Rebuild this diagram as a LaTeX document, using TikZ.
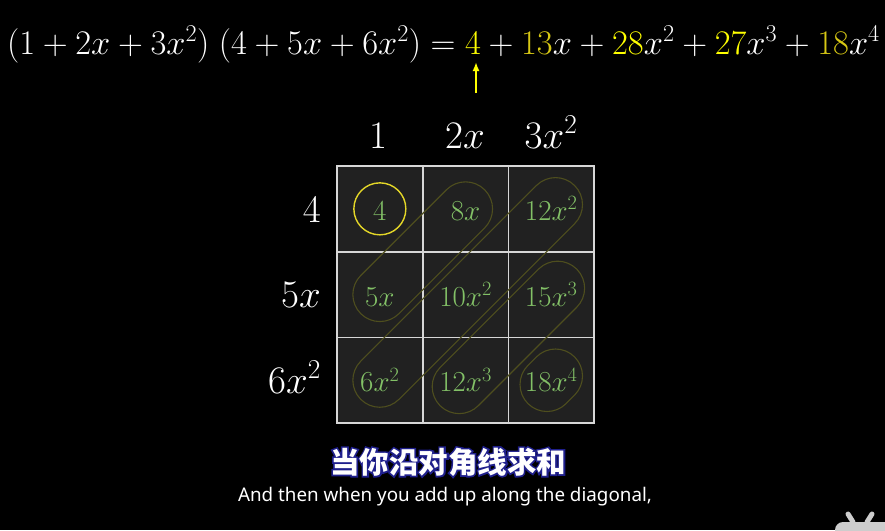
\RequirePackage{fix-cm}
\documentclass[tikz,border=0pt]{standalone}
\usepackage{amsmath}
\usepackage{fontspec}
\newfontfamily\cjkfont{Noto Sans CJK SC}
\newfontfamily\subfont{Noto Sans}
\usetikzlibrary{calc,arrows.meta}

\definecolor{cellgray}{RGB}{33,33,33}
\definecolor{gridline}{RGB}{215,215,215}
\definecolor{termgreen}{RGB}{131,193,103}
\definecolor{hlyellow}{RGB}{255,255,0}
\definecolor{ringyellow}{RGB}{228,215,40}
\definecolor{dimyellow}{RGB}{215,200,20}
\definecolor{bandolive}{RGB}{78,78,30}
\definecolor{icongray}{RGB}{205,205,205}

% rounded band along a diagonal: upper-right end, lower-left end, radius
\newcommand\diagband[3]{%
  \draw[band] ($(#1)+(225:#3)$) -- ($(#2)+(225:#3)$)
    arc[start angle=225,end angle=45,radius=#3] -- ($(#1)+(45:#3)$)
    arc[start angle=45,end angle=-135,radius=#3] -- cycle;}

% white text with a dark blue rim drawn under it
\newcommand\rimtext[1]{\rlap{\special{pdf:literal direct 1 Tr 3.2 w 0.12 0.12 0.55 RG}#1\special{pdf:literal direct 0 Tr}}#1}

\def\cellterms{0/{4,8x,12x^2},1/{5x,10x^2,15x^3},2/{6x^2,12x^3,18x^4}}

\begin{document}
\begin{tikzpicture}[x=1pt,y=-1pt,>=Latex,
  cellbox/.style={draw=gridline,line width=1.6pt,fill=cellgray,minimum size=85.7pt,inner sep=0pt},
  term/.style={text=termgreen,anchor=base,inner sep=0pt,font=\fontsize{29}{30}\selectfont},
  lbl/.style={text=white,inner sep=0pt,font=\fontsize{39}{40}\selectfont},
  band/.style={draw=bandolive,line width=1.1pt},
  sub/.style={inner sep=0pt,text=white}]
  \fill[black] (0,0) rectangle (885,530);
  \useasboundingbox (0,0) rectangle (885,530);
  \clip (0,0) rectangle (885,530);

  % product at the top
  \node[text=white,anchor=base west,inner sep=0pt,font=\fontsize{34.5}{37}\selectfont] (eq) at (7,54)
    {$(1+2x+3x^2)\;(4+5x+6x^2)=\textcolor{hlyellow}{4}+\textcolor{dimyellow}{13}x+\textcolor{hlyellow}{28}x^2+\textcolor{hlyellow}{27}x^3+\textcolor{dimyellow}{18}x^4$};
  \coordinate (arrtail) at (476,93);
  \coordinate (arrtip) at (476,62);
  \draw[-{Latex[length=9pt,width=7pt]},hlyellow,line width=2.2pt] (arrtail) -- (arrtip);

  % table
  \foreach \row/\terms in \cellterms
    \foreach \t [count=\col from 0] in \terms
      \node[cellbox] (c-\col-\row) at ({337+85.7*(\col+0.5)},{166+85.7*(\row+0.5)}) {};

  \coordinate (b2-up) at ($(c-2-0)+(-45:6)$);
  \coordinate (b3-up) at ($(c-2-1)+(-45:9)$);
  \coordinate (b3-dn) at ($(c-1-2)+(135:9)$);
  \coordinate (b4-up) at ($(c-2-2)+(-45:6)$);
  \coordinate (b4-dn) at ($(c-2-2)+(135:6)$);
  \diagband{c-1-0}{c-0-1}{27}
  \diagband{b2-up}{c-0-2}{27}
  \diagband{b3-up}{b3-dn}{27}
  \diagband{b4-up}{b4-dn}{27}

  \foreach \row/\terms in \cellterms
    \foreach \t [count=\col from 0] in \terms
      \node[term] (t-\col-\row) at ($(c-\col-\row)+(0,11.5)$) {$\t$};

  \node[circle,draw=ringyellow,line width=1.4pt,minimum size=52pt] (ring) at (c-0-0) {};

  % headers
  \node[lbl,anchor=base] (h-0) at (378,148) {$1$};
  \node[lbl,anchor=base] (h-1) at (465,148) {$2x$};
  \node[lbl,anchor=base] (h-2) at (551,148) {$3x^2$};
  \node[lbl,anchor=base east] (r-0) at (321,222) {$4$};
  \node[lbl,anchor=base east] (r-1) at (321,307) {$5x$};
  \node[lbl,anchor=base east] (r-2) at (321,393) {$6x^2$};

  % subtitles
  \node[sub,font=\cjkfont\bfseries\fontsize{29.5}{30}\selectfont] (cn) at (448,462) {\rimtext{当你沿对角线求和}};
  \node[sub,anchor=base,font=\subfont\fontsize{18.8}{20}\selectfont] (en) at (445,501) {And then when you add up along the diagonal,};

  % corner icon
  \fill[icongray,rounded corners=8pt] (835,522) rectangle (900,545);
  \draw[icongray,line width=5pt,line cap=round] (853,522) -- (848,514);
  \draw[icongray,line width=5pt,line cap=round] (867,522) -- (872,514);
\end{tikzpicture}
\end{document}
